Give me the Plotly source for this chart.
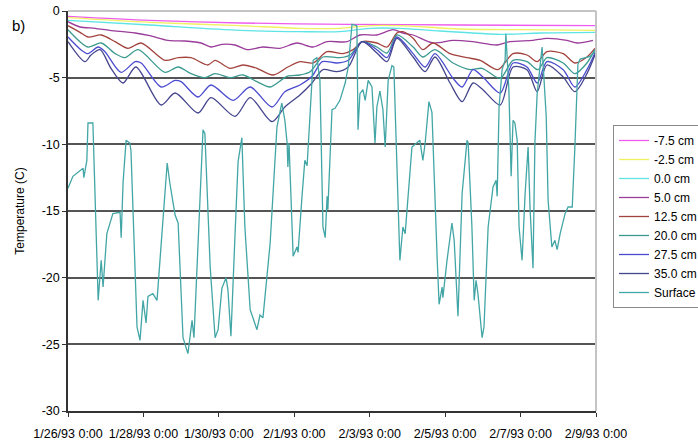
import pandas as pd
import plotly.graph_objects as go

START = pd.Timestamp("1993-01-26")

# ---- data: (days since 1/26/93 0:00, temperature C) ----
m75_days = [0, 2.17, 4.56, 7.48, 10.40, 14.0]
m75_temp = [-0.4, -0.7, -0.9, -1.0, -1.05, -1.1]

m25_days = [0, 2.17, 4.56, 6.15, 7.21, 8.01, 8.80, 10.40, 11.99, 14.0]
m25_temp = [-0.5, -0.85, -1.1, -1.3, -1.3, -1.1, -1.1, -1.35, -1.4, -1.45]

p00_days = [0, 2.17, 4.56, 6.15, 7.21, 8.01, 8.80, 9.86, 11.46, 12.52, 14.0]
p00_temp = [-0.7, -1.05, -1.45, -1.55, -1.55, -1.3, -1.3, -1.5, -1.75, -1.65, -1.6]

p50_days = [0, 0.32, 0.72, 1.11, 1.78, 2.17, 2.65, 3.10, 3.53, 3.79, 4.08, 4.43, 4.75,
            5.17, 5.62, 6.07, 6.50, 6.87, 7.40, 7.74, 8.19, 8.62, 8.88, 9.15, 9.68,
            10.21, 10.74, 11.38, 11.72, 12.33, 12.70, 13.23, 13.50, 13.92]
p50_temp = [-0.8, -1.2, -1.3, -1.45, -1.65, -1.85, -2.2, -2.25, -2.4, -2.7, -2.5, -2.55, -2.9,
            -2.7, -2.8, -2.4, -2.7, -2.3, -2.3, -1.8, -1.8, -1.4, -1.65, -1.8, -2.4,
            -2.2, -2.3, -2.55, -2.3, -2.2, -2.05, -2.2, -2.4, -2.2]

p125_days = [0, 0.32, 0.53, 0.88, 1.25, 1.59, 1.94, 2.57, 2.92, 3.26, 3.71, 3.90, 4.30,
             4.64, 5.01, 5.44, 5.83, 6.15, 6.50, 6.87, 7.29, 7.56, 7.80, 8.19, 8.46,
             8.72, 8.88, 9.15, 9.41, 9.68, 10.13, 10.58, 10.93, 11.40, 11.80, 12.17,
             12.44, 12.70, 13.13, 13.44, 13.76, 13.97]
p125_temp = [-1.1, -1.6, -1.95, -1.8, -2.3, -2.8, -2.4, -3.7, -3.5, -3.5, -4.05, -3.7, -4.3,
             -4.05, -4.3, -4.8, -4.2, -3.8, -3.9, -3.05, -3.2, -2.9, -2.3, -2.4, -2.7,
             -1.65, -1.55, -2.05, -2.9, -2.4, -3.2, -3.5, -3.7, -4.4, -3.2, -3.3,
             -3.8, -3.05, -3.2, -3.9, -3.45, -2.8]

p200_days = [0, 0.53, 0.88, 1.25, 1.51, 1.86, 2.57, 2.92, 3.26, 3.63, 3.90, 4.30, 4.64,
             5.01, 5.36, 5.81, 6.15, 6.42, 6.76, 7.21, 7.48, 7.80, 8.19, 8.46, 8.72,
             9.15, 9.41, 9.73, 10.21, 10.66, 10.98, 11.46, 11.80, 12.17, 12.46, 12.70,
             13.13, 13.44, 13.76, 13.97]
p200_temp = [-1.4, -2.7, -2.4, -3.2, -3.5, -2.9, -4.6, -4.2, -4.7, -5.0, -4.7, -5.0, -4.8,
             -5.3, -5.7, -4.9, -4.8, -4.55, -3.45, -3.5, -3.3, -2.3, -2.7, -3.15, -1.8,
             -2.7, -3.45, -2.9, -3.9, -4.4, -4.3, -5.05, -3.7, -3.8, -4.4, -3.5,
             -3.9, -4.7, -3.9, -2.9]

p275_days = [0, 0.34, 0.53, 0.80, 0.98, 1.41, 1.78, 1.94, 2.47, 2.84, 3.00, 3.45, 3.79,
             4.38, 4.83, 5.41, 5.75, 6.15, 6.47, 6.74, 7.13, 7.43, 7.80, 8.19, 8.46,
             8.72, 9.15, 9.47, 9.73, 10.21, 10.45, 10.74, 11.00, 11.46, 11.80, 12.17,
             12.44, 12.70, 13.13, 13.44, 13.76, 13.97]
p275_temp = [-1.95, -2.9, -3.2, -2.7, -3.05, -4.6, -3.8, -3.9, -5.7, -5.2, -5.3, -6.45, -5.55,
             -6.7, -5.7, -7.2, -6.05, -5.55, -4.9, -3.8, -3.9, -3.7, -2.3, -2.9, -3.5,
             -1.95, -3.2, -4.2, -3.2, -5.05, -5.7, -4.4, -4.95, -6.15, -3.9, -4.2,
             -5.4, -3.8, -4.4, -5.7, -4.4, -3.15]

p350_days = [0, 0.45, 0.61, 0.85, 1.14, 1.46, 1.80, 2.47, 2.84, 3.45, 3.79, 4.43, 4.83,
             5.41, 5.75, 6.15, 6.47, 6.76, 7.13, 7.43, 7.80, 8.19, 8.46, 8.72, 9.15,
             9.47, 9.73, 10.13, 10.45, 10.74, 11.00, 11.46, 11.80, 12.17, 12.44, 12.70,
             13.13, 13.44, 13.76, 13.97]
p350_temp = [-2.3, -3.8, -3.3, -2.9, -4.3, -5.4, -4.2, -7.05, -6.15, -7.65, -6.5, -7.9, -6.5,
             -8.3, -7.2, -6.3, -5.4, -4.4, -4.55, -4.2, -2.3, -3.15, -3.8, -2.05, -3.45,
             -4.55, -3.45, -5.4, -6.8, -5.4, -5.9, -7.05, -4.2, -4.4, -6.05, -4.05,
             -4.95, -6.05, -4.7, -3.3]

surf_days = [0.00, 0.13, 0.40, 0.42, 0.50, 0.53, 0.66, 0.80, 0.88, 0.93, 1.03, 1.19, 1.38,
             1.41, 1.46, 1.54, 1.64, 1.67, 1.83, 1.91, 1.99, 2.07, 2.12, 2.25, 2.36, 2.44,
             2.63, 2.70, 2.84, 2.92, 3.05, 3.18, 3.29, 3.34, 3.50, 3.58, 3.63, 3.77, 3.90,
             3.98, 4.08, 4.19, 4.24, 4.32, 4.43, 4.51, 4.61, 4.69, 4.83, 5.01, 5.09, 5.17,
             5.36, 5.54, 5.67, 5.75, 5.81, 5.83, 5.86, 5.94, 5.97, 6.07, 6.10, 6.21, 6.28,
             6.34, 6.42, 6.50, 6.60, 6.68, 6.76, 6.82, 6.87, 6.89, 7.00, 7.08, 7.21, 7.35,
             7.43, 7.53, 7.66, 7.69, 7.74, 7.82, 7.88, 7.96, 8.06, 8.14, 8.19, 8.27, 8.35,
             8.41, 8.49, 8.59, 8.64, 8.72, 8.80, 8.88, 8.94, 9.12, 9.20, 9.33, 9.41, 9.47,
             9.57, 9.65, 9.79, 9.84, 9.92, 9.94, 10.05, 10.18, 10.24, 10.34, 10.45, 10.58,
             10.61, 10.71, 10.77, 10.82, 10.87, 10.98, 11.03, 11.14, 11.27, 11.35, 11.38,
             11.43, 11.51, 11.59, 11.61, 11.69, 11.75, 11.80, 11.85, 11.91, 11.96, 12.04,
             12.12, 12.20, 12.25, 12.33, 12.38, 12.44, 12.57, 12.60, 12.68, 12.73, 12.83,
             12.91, 12.97, 13.05, 13.18, 13.26, 13.37, 13.44, 13.50, 13.52, 13.58, 13.84,
             14.00]
surf_temp = [-13.3, -12.4, -11.8, -12.5, -11.2, -8.4, -8.4, -21.7, -18.7, -20.7, -16.7, -15.2, -15.1,
             -17.0, -12.9, -9.7, -9.9, -10.5, -23.7, -24.7, -21.7, -23.4, -21.4, -21.2, -21.7, -18.7,
             -11.4, -12.9, -15.3, -15.9, -24.5, -25.7, -23.2, -24.5, -14.2, -8.9, -9.2, -19.2, -24.5,
             -23.9, -20.8, -20.0, -20.9, -24.4, -16.7, -11.3, -9.5, -16.2, -22.4, -23.9, -22.8, -23.0,
             -17.4, -8.7, -6.9, -8.2, -9.9, -11.7, -9.9, -16.2, -18.4, -17.7, -18.1, -13.7, -11.2,
             -11.6, -7.4, -3.7, -3.5, -5.2, -16.2, -17.0, -13.9, -14.9, -7.4, -7.3, -6.7, -5.4,
             -4.2, -1.0, -1.1, -8.9, -6.2, -5.9, -6.7, -5.2, -5.7, -9.9, -7.2, -6.0, -7.4,
             -10.2, -5.2, -4.1, -4.2, -12.4, -18.7, -16.2, -16.7, -10.2, -10.0, -9.7, -11.2, -9.9,
             -6.8, -7.6, -18.7, -22.0, -20.7, -21.5, -18.7, -15.9, -17.2, -22.9, -13.7, -9.7,
             -9.9, -16.2, -21.7, -20.2, -21.2, -24.5, -23.7, -16.2, -13.2, -12.7, -13.9,
             -7.2, -4.4, -3.7, -1.7, -5.9, -12.4, -8.2, -8.4, -9.7, -16.2, -18.7,
             -13.7, -10.2, -14.7, -19.3, -9.9, -6.2, -2.7, -4.4, -7.9, -14.2, -17.7,
             -17.2, -17.9, -16.7, -15.2, -14.7, -14.7, -10.2, -4.7, -4.0, -3.6, -3.4,
             -3.0]

series_names = ["-7.5 cm", "-2.5 cm", "0.0 cm", "5.0 cm", "12.5 cm", "20.0 cm",
                "27.5 cm", "35.0 cm", "Surface"]
series_days = [m75_days, m25_days, p00_days, p50_days, p125_days, p200_days,
               p275_days, p350_days, surf_days]
series_temp = [m75_temp, m25_temp, p00_temp, p50_temp, p125_temp, p200_temp,
               p275_temp, p350_temp, surf_temp]
series_colors = ["#ee5cee", "#f0f060", "#5ee4e4", "#9a3c9a", "#a3433e", "#3b9a90",
                 "#4b4bd0", "#45458e", "#43a6a6"]
series_shapes = ["spline"] * 8 + ["linear"]

x_tick_days = [0, 2, 4, 6, 8, 10, 12, 14]
x_tick_text = ["1/26/93 0:00", "1/28/93 0:00", "1/30/93 0:00", "2/1/93 0:00",
               "2/3/93 0:00", "2/5/93 0:00", "2/7/93 0:00", "2/9/93 0:00"]
y_tick_vals = [0, -5, -10, -15, -20, -25, -30]
y_tick_text = ["0", "-5", "-10", "-15", "-20", "-25", "-30"]


def to_dates(days):
    return [START + pd.Timedelta(days=d) for d in days]


FONT = "Arial, 'Liberation Sans', sans-serif"

fig = go.Figure()
for name, d, t, c, s in zip(series_names, series_days, series_temp, series_colors,
                            series_shapes):
    fig.add_trace(go.Scatter(x=to_dates(d), y=t, mode="lines", name=name,
                             line=dict(color=c, width=1.3, shape=s, smoothing=0.8)))

fig.update_layout(
    width=698, height=440,
    margin=dict(l=68, r=102, t=11, b=29, autoexpand=False),
    paper_bgcolor="white", plot_bgcolor="white",
    font=dict(family=FONT, size=12, color="#000"),
    showlegend=True,
    legend=dict(x=(613 - 68) / 528, y=0.715, xanchor="left", yanchor="top",
                bordercolor="#8a8a8a", borderwidth=1, bgcolor="white",
                font=dict(family=FONT, size=12, color="#000"), tracegroupgap=0),
    xaxis=dict(type="date",
               range=[START, START + pd.Timedelta(days=14)],
               tickvals=to_dates(x_tick_days), ticktext=x_tick_text,
               showgrid=False, zeroline=False,
               showline=True, linecolor="#333", linewidth=1.5,
               ticks="outside", ticklen=4, tickcolor="#333",
               ticklabelstandoff=6,
               tickfont=dict(family=FONT, size=12.5, color="#000"),
               automargin=False),
    yaxis=dict(range=[-30, 0], tickvals=y_tick_vals, ticktext=y_tick_text,
               showgrid=True, gridcolor="#555", gridwidth=1.5,
               zeroline=False,
               showline=True, linecolor="#333", linewidth=1.5,
               ticks="outside", ticklen=4, tickcolor="#333",
               tickfont=dict(family=FONT, size=12.5, color="#000"),
               title=dict(text="Temperature (C)", standoff=14,
                          font=dict(family=FONT, size=12, color="#000")),
               automargin=False),
    shapes=[
        dict(type="line", xref="paper", yref="paper", x0=0, x1=1, y0=1, y1=1,
             line=dict(color="#c4c4c4", width=2), layer="above"),
        dict(type="line", xref="paper", yref="paper", x0=1, x1=1, y0=0, y1=1,
             line=dict(color="#c4c4c4", width=2), layer="above"),
    ],
    annotations=[
        dict(text="b)", xref="paper", yref="paper", x=(10 - 68) / 528,
             y=(411 - 26) / 400, xanchor="left", yanchor="middle",
             showarrow=False, font=dict(family=FONT, size=15, color="#000")),
    ],
)

# remove the browser's default 8px body margin so the figure sits at the window origin
fig.write_html("out.html",
               config={"displayModeBar": False},
               post_script="document.body.style.margin='0';document.body.style.overflow='hidden';")
